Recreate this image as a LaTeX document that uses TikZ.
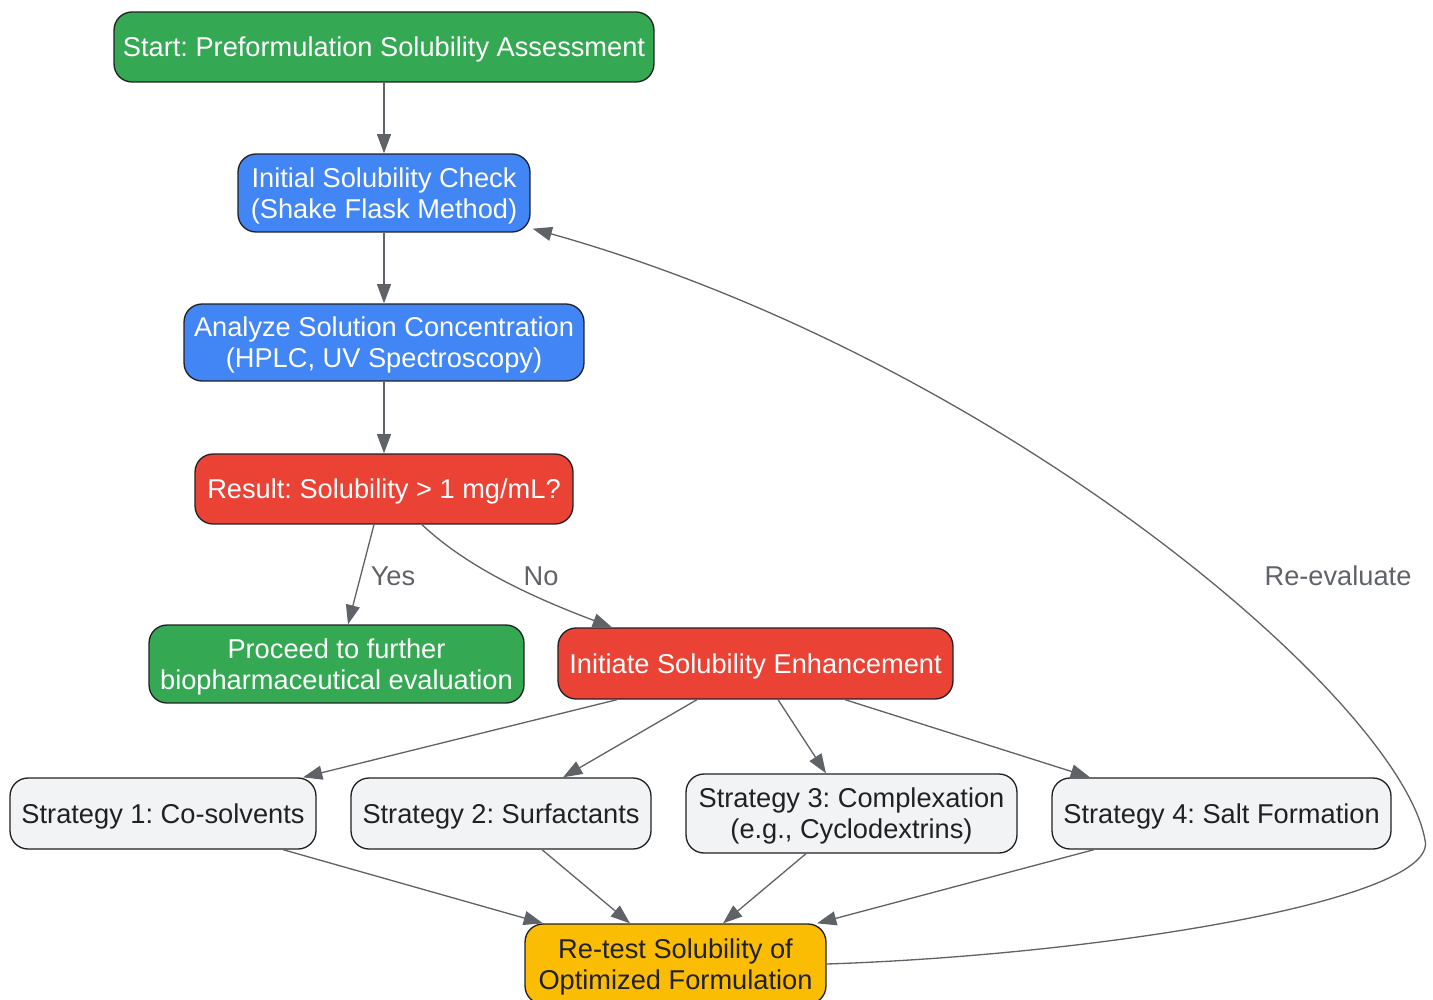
\documentclass[tikz,border=0pt]{standalone}
\usepackage{fontspec}
\setmainfont{Liberation Sans}
\frenchspacing
\usetikzlibrary{arrows.meta,calc}

\definecolor{okgreen}{HTML}{34A853}
\definecolor{stepblue}{HTML}{4285F4}
\definecolor{alertred}{HTML}{EA4335}
\definecolor{retestyellow}{HTML}{FBBC04}
\definecolor{stratgray}{HTML}{F1F3F4}
\definecolor{boxline}{HTML}{202124}
\definecolor{edgegray}{HTML}{5F6368}

\tikzset{
	box/.style={draw=boxline, line width=0.75pt, rounded corners=0.36cm, align=center, inner sep=2pt, text depth=0pt, font=\fontsize{15.5}{17.6}\selectfont},
	greenbox/.style={box, fill=okgreen, text=white},
	bluebox/.style={box, fill=stepblue, text=white},
	redbox/.style={box, fill=alertred, text=white},
	graybox/.style={box, fill=stratgray, text=boxline},
	yellowbox/.style={box, fill=retestyellow, text=boxline},
	flow/.style={draw=edgegray, line width=0.75pt, -{Triangle[length=11pt,width=8pt]}},
	lbl/.style={text=edgegray, inner sep=1pt, font=\fontsize{15.5}{17.6}\selectfont}
}

\begin{document}
\begin{tikzpicture}[x=0.02cm, y=-0.02cm]
		\useasboundingbox (0,0) rectangle (1433,1000);

		\draw (384,47) node[greenbox, minimum width=10.8cm, minimum height=1.4cm] (start) {Start: Preformulation Solubility Assessment};
		\draw (384,193) node[bluebox, minimum width=5.84cm, minimum height=1.56cm] (check) {Initial Solubility Check\\(Shake Flask Method)};
		\draw (384,342.5) node[bluebox, minimum width=8cm, minimum height=1.54cm] (analyze) {Analyze Solution Concentration\\(HPLC, UV Spectroscopy)};
		\draw (384,489) node[redbox, minimum width=7.56cm, minimum height=1.4cm] (result) {Result: Solubility > 1 mg/mL?};
		\draw (336.5,664) node[greenbox, minimum width=7.5cm, minimum height=1.56cm] (proceed) {Proceed to further\\biopharmaceutical evaluation};
		\draw (755.5,663.5) node[redbox, minimum width=7.9cm, minimum height=1.42cm] (initiate) {Initiate Solubility Enhancement};

		\draw (163,813.5) node[graybox, minimum width=6.12cm, minimum height=1.42cm] (strat1) {Strategy 1: Co-solvents};
		\draw (501,813.5) node[graybox, minimum width=6cm, minimum height=1.42cm] (strat2) {Strategy 2: Surfactants};
		\draw (851.5,813.5) node[graybox, minimum width=6.62cm, minimum height=1.58cm] (strat3) {Strategy 3: Complexation\\(e.g., Cyclodextrins)};
		\draw (1221.5,813.5) node[graybox, minimum width=6.78cm, minimum height=1.42cm] (strat4) {Strategy 4: Salt Formation};

		\draw (675.5,964) node[yellowbox, minimum width=6.02cm, minimum height=1.6cm] (retest) {Re-test Solubility of\\Optimized Formulation};

		% main line
		\draw[flow] (start) -- (check);
		\draw[flow] (check) -- (analyze);
		\draw[flow] (analyze) -- (result);

		% decision
		\draw[flow] ($(result.south)+(-10,0)$) -- ($(proceed.north)+(11.5,0)$);
		\draw (393,576) node[lbl] (yes) {Yes};
		\draw[flow] ($(result.south)+(38,0)$) .. controls (470,570) and (540,600) .. ($(initiate.north)+(-143.5,0)$);
		\draw (541,576) node[lbl] (no) {No};

		% strategies
		\draw[flow] ($(initiate.south)+(-138.5,0)$) -- ($(strat1.north)+(140,0)$);
		\draw[flow] ($(initiate.south)+(-58.5,0)$) -- ($(strat2.north)+(62,0)$);
		\draw[flow] ($(initiate.south)+(22.5,0)$) -- ($(strat3.north)+(-25.5,0)$);
		\draw[flow] ($(initiate.south)+(89.5,0)$) -- ($(strat4.north)+(-131.5,0)$);

		\draw[flow] ($(strat1.south)+(120,0)$) -- ($(retest.north)+(-132.5,0)$);
		\draw[flow] ($(strat2.south)+(41,0)$) -- ($(retest.north)+(-45.5,0)$);
		\draw[flow] ($(strat3.south)+(-45.5,0)$) -- ($(retest.north)+(47.5,0)$);
		\draw[flow] ($(strat4.south)+(-127.5,0)$) -- ($(retest.north)+(141.5,0)$);

		% loop back
		\draw[flow] (retest.east) .. controls (1100,955) and (1440,900) .. (1425,840) .. controls (1400,700) and (1000,360) .. ($(check.south east)+(2,-4)$);
		\draw (1338,576) node[lbl] (reeval) {Re-evaluate};
	\end{tikzpicture}
\end{document}
